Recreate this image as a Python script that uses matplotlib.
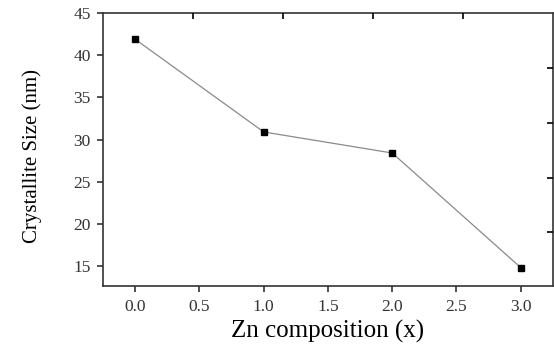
import matplotlib
matplotlib.use("Agg")
import matplotlib.pyplot as plt

zn = [0.0, 1.0, 2.0, 3.0]
size_nm = [41.9, 30.9, 28.4, 14.8]
x_ticks = [0.0, 0.5, 1.0, 1.5, 2.0, 2.5, 3.0]
y_ticks = [15, 20, 25, 30, 35, 40, 45]

plt.rcParams["font.family"] = ["Liberation Serif", "DejaVu Serif"]

fig = plt.figure(figsize=(5.54, 3.46), dpi=100)
ax = fig.add_axes([0.186, 0.173, 0.812, 0.789])

ax.plot(zn, size_nm, color="#8a8a8a", linewidth=0.9,
        marker="s", markersize=4.5, markerfacecolor="black",
        markeredgecolor="black", zorder=3)

ax.set_xlim(-0.25, 3.25)
ax.set_ylim(12.6, 45)
ax.set_xticks(x_ticks)
ax.set_xticklabels([f"{v:.1f}" for v in x_ticks])
ax.set_yticks(y_ticks)
ax.tick_params(direction="out", length=4, width=1.2, labelsize=12.5,
               colors="#333333", pad=5)
for s in ax.spines.values():
    s.set_linewidth(1.2)
    s.set_color("#333333")

# odd inward ticks on top and right, as in the scanned figure
ax_top = ax.twiny()
ax_top.set_xlim(ax.get_xlim())
ax_top.set_xticks([0.45, 1.15, 1.85, 2.55])
ax_top.tick_params(direction="in", length=4, width=1.2, labeltop=False)
ax_right = ax.twinx()
ax_right.set_ylim(ax.get_ylim())
ax_right.set_yticks([19.05, 25.45, 31.97, 38.48])
ax_right.tick_params(direction="in", length=4, width=1.2, labelright=False)
for a in (ax_top, ax_right):
    for s in a.spines.values():
        s.set_visible(False)

ax.set_xlabel("Zn composition (x)", fontsize=18, labelpad=4)
ax.set_ylabel("Crystallite Size (nm)", fontsize=15)
ax.yaxis.set_label_coords(-0.136, 0.475)

fig.savefig("out.png", dpi=100)
